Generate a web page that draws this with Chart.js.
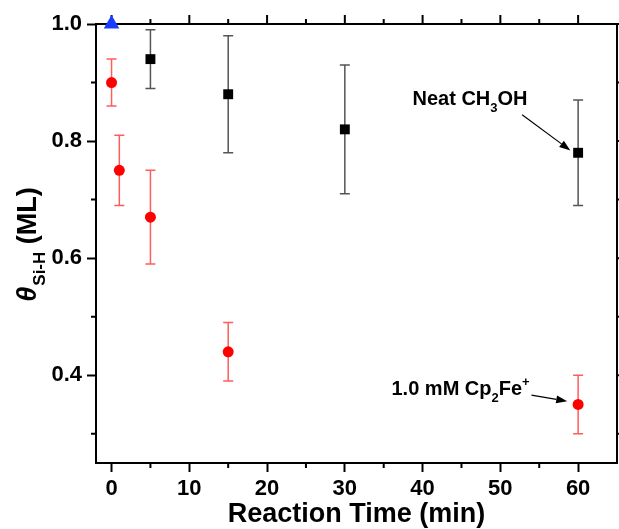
<!DOCTYPE html>
<html lang="en">
<head>
<meta charset="UTF-8" />
<title>Si-H coverage vs reaction time</title>
<script src="https://cdn.jsdelivr.net/npm/chart.js"></script>
<style>
  html, body { margin: 0; padding: 0; background: #fff; overflow: hidden; }
  canvas { display: block; }
</style>
</head>
<body>
<canvas id="coverageChart" width="619" height="529"></canvas>
<script>
// Neat CH3OH
const neatTime = [5, 15, 30, 60];
const neatCover = [0.94, 0.88, 0.82, 0.78];
const neatErr = [0.05, 0.10, 0.11, 0.09];
// 1.0 mM Cp2Fe+
const ferroTime = [0, 1, 5, 15, 60];
const ferroCover = [0.90, 0.75, 0.67, 0.44, 0.35];
const ferroErr = [0.04, 0.06, 0.08, 0.05, 0.05];
// freshly H-terminated surface
const startTime = [0];
const startCover = [1.0];

const xTicks = [0, 10, 20, 30, 40, 50, 60];
const xMinor = [5, 15, 25, 35, 45, 55];
const yTicks = [0.4, 0.6, 0.8, 1.0];
const yMinor = [0.3, 0.5, 0.7, 0.9];

// labels: [text, 0 normal / 1 sub / 2 sup]
const neatNote = [['Neat CH', 0], ['3', 1], ['OH', 0]];
const ferroNote = [['1.0 mM Cp', 0], ['2', 1], ['Fe', 0], ['+', 2]];
const noteAt = [[38.7, 0.862], [36.0, 0.367]];
const arrowFrom = [[52.8, 0.845], [54.0, 0.366]];
const arrowTo = [[59.0, 0.784], [58.6, 0.3555]];

const FONT = "'Liberation Sans', Arial, sans-serif";

function toPoints(xs, ys) {
  return xs.map((v, i) => ({ x: v, y: ys[i] }));
}

function drawRich(ctx, x, y, parts, size) {
  let cx = x;
  parts.forEach(([t, kind]) => {
    const s = kind === 0 ? size : Math.round(size * 0.65);
    const dy = kind === 1 ? size * 0.35 : kind === 2 ? -size * 0.45 : 0;
    ctx.font = 'bold ' + s + 'px ' + FONT;
    ctx.fillText(t, cx, y + dy);
    cx += ctx.measureText(t).width;
  });
}

function drawArrow(ctx, x1, y1, x2, y2) {
  const ang = Math.atan2(y2 - y1, x2 - x1);
  const len = 11, half = 4;
  const bx = x2 - len * Math.cos(ang), by = y2 - len * Math.sin(ang);
  ctx.beginPath();
  ctx.moveTo(x1, y1);
  ctx.lineTo(bx, by);
  ctx.stroke();
  ctx.beginPath();
  ctx.moveTo(x2, y2);
  ctx.lineTo(bx + half * Math.sin(ang), by - half * Math.cos(ang));
  ctx.lineTo(bx - half * Math.sin(ang), by + half * Math.cos(ang));
  ctx.closePath();
  ctx.fill();
}

const framePlugin = {
  id: 'frame',
  beforeDatasetsDraw(chart) {
    const { ctx, chartArea: a, scales: { x, y } } = chart;
    ctx.save();
    ctx.strokeStyle = '#000';
    ctx.lineWidth = 2;
    ctx.beginPath();
    ctx.moveTo(a.left, a.top);
    ctx.lineTo(a.right, a.top);
    ctx.lineTo(a.right, a.bottom);
    xTicks.forEach(v => {
      const px = x.getPixelForValue(v);
      ctx.moveTo(px, a.top); ctx.lineTo(px, a.top - 9);
    });
    xMinor.forEach(v => {
      const px = x.getPixelForValue(v);
      ctx.moveTo(px, a.top); ctx.lineTo(px, a.top - 5);
      ctx.moveTo(px, a.bottom); ctx.lineTo(px, a.bottom + 5);
    });
    yTicks.forEach(v => {
      const py = y.getPixelForValue(v);
      ctx.moveTo(a.right, py); ctx.lineTo(a.right + 9, py);
    });
    yMinor.forEach(v => {
      const py = y.getPixelForValue(v);
      ctx.moveTo(a.left, py); ctx.lineTo(a.left - 5, py);
      ctx.moveTo(a.right, py); ctx.lineTo(a.right + 5, py);
    });
    ctx.stroke();

    // error bars
    const bars = [
      [neatTime, neatCover, neatErr, '#555555'],
      [ferroTime, ferroCover, ferroErr, '#ff5c5c']
    ];
    ctx.lineWidth = 1.5;
    bars.forEach(([xs, ys, es, col]) => {
      ctx.strokeStyle = col;
      ctx.beginPath();
      xs.forEach((v, i) => {
        const px = x.getPixelForValue(v);
        const top = y.getPixelForValue(ys[i] + es[i]);
        const bot = y.getPixelForValue(ys[i] - es[i]);
        ctx.moveTo(px, top); ctx.lineTo(px, bot);
        ctx.moveTo(px - 5, top); ctx.lineTo(px + 5, top);
        ctx.moveTo(px - 5, bot); ctx.lineTo(px + 5, bot);
      });
      ctx.stroke();
    });
    ctx.restore();
  },
  afterDraw(chart) {
    const { ctx, chartArea: a, scales: { x, y } } = chart;
    ctx.save();
    ctx.fillStyle = '#000';
    ctx.strokeStyle = '#000';
    ctx.textBaseline = 'alphabetic';

    // x title
    ctx.font = 'bold 27px ' + FONT;
    ctx.textAlign = 'center';
    ctx.fillText('Reaction Time (min)', (a.left + a.right) / 2, 522);

    // y title, rotated
    ctx.textAlign = 'left';
    const parts = [['\u03B8', 'italic bold 27px ', 0], ['Si-H', 'bold 17px ', 9], [' (ML)', 'bold 27px ', 0]];
    let total = 0;
    parts.forEach(p => { ctx.font = p[1] + FONT; total += ctx.measureText(p[0]).width; });
    ctx.translate(36, 245);
    ctx.rotate(-Math.PI / 2);
    let cx = -total / 2;
    parts.forEach(p => {
      ctx.font = p[1] + FONT;
      ctx.fillText(p[0], cx, p[2]);
      cx += ctx.measureText(p[0]).width + (p[0] === '\u03B8' ? 1 : 0);
    });
    ctx.setTransform(1, 0, 0, 1, 0, 0);

    // notes and arrows
    [neatNote, ferroNote].forEach((note, i) => {
      drawRich(ctx, x.getPixelForValue(noteAt[i][0]), y.getPixelForValue(noteAt[i][1]), note, 20);
      ctx.lineWidth = 1.2;
      drawArrow(ctx,
        x.getPixelForValue(arrowFrom[i][0]), y.getPixelForValue(arrowFrom[i][1]),
        x.getPixelForValue(arrowTo[i][0]), y.getPixelForValue(arrowTo[i][1]));
    });
    ctx.restore();
  }
};

const tickFont = { family: FONT, size: 22, weight: 'bold' };

new Chart(document.getElementById('coverageChart'), {
  type: 'scatter',
  data: {
    datasets: [
      {
        label: 'Neat CH3OH',
        data: toPoints(neatTime, neatCover),
        pointStyle: 'rect',
        pointRadius: 7,
        backgroundColor: '#000',
        borderColor: '#000',
        borderWidth: 0,
        clip: false
      },
      {
        label: '1.0 mM Cp2Fe+',
        data: toPoints(ferroTime, ferroCover),
        pointStyle: 'circle',
        pointRadius: 5.5,
        backgroundColor: '#ff0000',
        borderColor: '#ff0000',
        borderWidth: 0,
        clip: false
      },
      {
        label: 'H-Si(111)',
        data: toPoints(startTime, startCover),
        pointStyle: 'triangle',
        pointRadius: 9,
        backgroundColor: '#1a3cff',
        borderColor: '#1a3cff',
        borderWidth: 0,
        clip: false
      }
    ]
  },
  options: {
    responsive: false,
    animation: false,
    devicePixelRatio: 1,
    layout: { autoPadding: false, padding: { left: 0, right: 2, top: 24, bottom: 0 } },
    plugins: { legend: { display: false }, tooltip: { enabled: false } },
    scales: {
      x: {
        type: 'linear',
        min: -2,
        max: 65,
        afterBuildTicks: s => { s.ticks = xTicks.map(v => ({ value: v })); },
        afterFit: s => { s.height = 66; s.paddingLeft = 0; s.paddingRight = 0; },
        ticks: { color: '#000', font: tickFont, padding: 4, maxRotation: 0, autoSkip: false },
        grid: { drawOnChartArea: false, tickLength: 9, tickWidth: 2, tickColor: '#000' },
        border: { color: '#000', width: 2 }
      },
      y: {
        type: 'linear',
        min: 0.25,
        max: 1.0,
        afterBuildTicks: s => { s.ticks = yTicks.map(v => ({ value: v })); },
        afterFit: s => { s.width = 96; s.paddingTop = 0; s.paddingBottom = 0; },
        ticks: { color: '#000', font: tickFont, padding: 5, callback: v => v.toFixed(1) },
        grid: { drawOnChartArea: false, tickLength: 9, tickWidth: 2, tickColor: '#000' },
        border: { color: '#000', width: 2 }
      }
    }
  },
  plugins: [framePlugin]
});
</script>
</body>
</html>
